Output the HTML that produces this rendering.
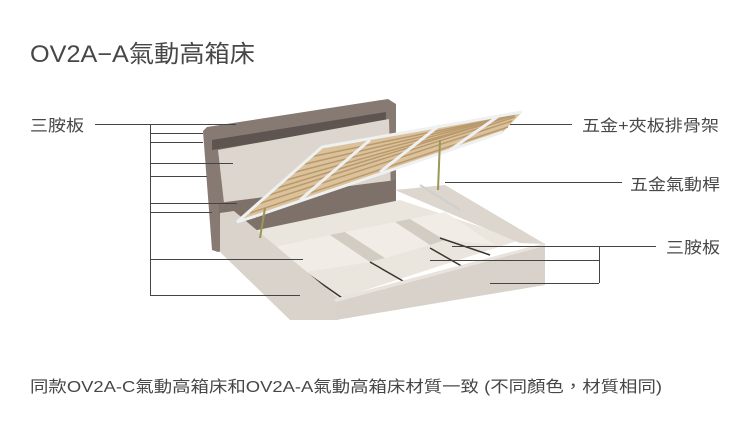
<!DOCTYPE html>
<html><head><meta charset="utf-8"><style>
html,body{margin:0;padding:0;background:#fff;}
svg{display:block;}
text{font-family:"Liberation Sans","Noto Sans CJK TC",sans-serif;fill:#474747;}
</style></head><body>
<svg width="750" height="439" viewBox="0 0 750 439" xmlns="http://www.w3.org/2000/svg">
<text x="30" y="62" font-size="24" textLength="225" lengthAdjust="spacingAndGlyphs">OV2A−A氣動高箱床</text>

<!-- headboard -->
<polygon points="203,131 207,127 388,99 396,104 396,212 218,252 212,250" fill="#877a72"/>
<polygon points="212,140 386,112 386,122 212,150" fill="#5e5550"/>
<polygon points="218,150 389,119 391,195 224,203" fill="#ddd6ce"/>
<polygon points="218,203 396,180 396,212 222,240" fill="#7e716a"/>
<!-- base interior -->
<polygon points="248,232 400,200 520,240 335,300" fill="#ebe6dd"/>
<polygon points="395,190 445,185 545,244 520,243 430,205" fill="#dcd6ce"/>
<!-- dividers -->
<polygon points="270,248 330,235 370,262 305,272" fill="#f1ede6"/>
<polygon points="330,235 345,232 385,258 370,262" fill="#d2ccc3"/>
<polygon points="345,232 395,222 430,245 385,258" fill="#f1ede6"/>
<polygon points="395,222 410,219 445,240 430,245" fill="#d2ccc3"/>
<polygon points="410,219 445,212 495,245 445,240" fill="#f1ede6"/>
<line x1="305" y1="272" x2="345" y2="300" stroke="#3a3532" stroke-width="1.5"/>
<line x1="370" y1="262" x2="410" y2="285" stroke="#3a3532" stroke-width="1.5"/>
<line x1="430" y1="248" x2="465" y2="268" stroke="#3a3532" stroke-width="1.5"/>
<line x1="440" y1="238" x2="490" y2="255" stroke="#3a3532" stroke-width="1.5"/>
<!-- left side panel -->
<polygon points="220,213 234,211 338,298 338,320 290,320 220,252" fill="#d9d3cc"/>
<!-- front panel -->
<polygon points="334,299 545,243 545,285 336,320" fill="#d8d2cb"/>
<polygon points="334,299 545,243 545,246 336,302" fill="#e8e3dc"/>

<!-- slat frame -->
<polygon points="237,222 322,147 522,112 503,132 256,216" fill="#dcc29b"/>
<g stroke="#b99a6e" stroke-width="1.5">
<line x1="250" y1="213" x2="508" y2="127"/><line x1="258" y1="204" x2="512" y2="121"/>
<line x1="266" y1="196" x2="515" y2="117"/><line x1="274" y1="189" x2="515" y2="115"/>
<line x1="283" y1="181" x2="513" y2="116"/><line x1="292" y1="173" x2="510" y2="116"/>
<line x1="301" y1="165" x2="505" y2="117"/><line x1="310" y1="157" x2="500" y2="118"/>
</g>
<g stroke="#eef0f2" stroke-width="3" fill="none">
<polyline points="237,222 322,147 522,112"/>
<line x1="237" y1="222" x2="256" y2="216"/>
<line x1="256" y1="216" x2="503" y2="132"/>
<line x1="300" y1="200" x2="370" y2="140"/>
<line x1="380" y1="172" x2="440" y2="125"/>
<line x1="450" y1="150" x2="500" y2="115"/>
</g>
<g stroke="#9d9656" stroke-width="2">
<line x1="265" y1="208" x2="260" y2="238"/>
<line x1="440" y1="140" x2="438" y2="190"/>
</g>
<line x1="420" y1="185" x2="460" y2="210" stroke="#cfcfcf" stroke-width="2"/>

<!-- leader lines -->
<g stroke="#444" stroke-width="1" fill="none">
<line x1="95" y1="124.5" x2="236" y2="124.5"/>
<line x1="150.5" y1="124" x2="150.5" y2="295"/>
<line x1="150" y1="133.5" x2="203" y2="133.5"/>
<line x1="150" y1="142.5" x2="203" y2="142.5"/>
<line x1="150" y1="163.5" x2="233" y2="163.5"/>
<line x1="150" y1="176.5" x2="207" y2="176.5"/>
<line x1="150" y1="203.5" x2="237" y2="203.5"/>
<line x1="150" y1="212.5" x2="212" y2="212.5"/>
<line x1="150" y1="259.5" x2="303" y2="259.5"/>
<line x1="150" y1="295.5" x2="300" y2="295.5"/>
<line x1="510" y1="124.5" x2="572" y2="124.5"/>
<line x1="445" y1="182.5" x2="622" y2="182.5"/>
<line x1="452" y1="246.5" x2="656" y2="246.5"/>
<line x1="599.5" y1="246" x2="599.5" y2="283"/>
<line x1="430" y1="260.5" x2="599" y2="260.5"/>
<line x1="490" y1="283.5" x2="599" y2="283.5"/>
</g>

<text x="30" y="131" font-size="16" textLength="54" lengthAdjust="spacingAndGlyphs">三胺板</text>
<text x="582" y="131" font-size="16" textLength="137" lengthAdjust="spacingAndGlyphs">五金+夾板排骨架</text>
<text x="630" y="190" font-size="16" textLength="90" lengthAdjust="spacingAndGlyphs">五金氣動桿</text>
<text x="666" y="253" font-size="16" textLength="54" lengthAdjust="spacingAndGlyphs">三胺板</text>
<text x="30" y="392" font-size="16" textLength="632" lengthAdjust="spacingAndGlyphs">同款OV2A-C氣動高箱床和OV2A-A氣動高箱床材質一致 (不同顏色，材質相同)</text>
</svg>
</body></html>
